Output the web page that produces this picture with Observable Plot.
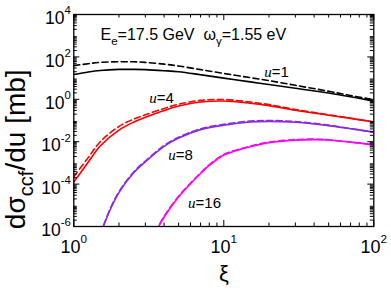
<!DOCTYPE html>
<html>
<head>
<meta charset="utf-8">
<script src="https://cdn.jsdelivr.net/npm/d3@7"></script>
<script src="https://cdn.jsdelivr.net/npm/@observablehq/plot@0.6"></script>
<style>
  html, body { margin: 0; padding: 0; background: #fff; }
  #chart svg { display: block; }
</style>
</head>
<body>
<div id="chart"></div>
<script>
// ---- data ----
// log10 of dσ/du [mb] at each ξ
const xiA = [1, 1.25, 1.5, 2, 2.5, 3, 4, 5, 7, 10, 15, 20, 30, 50, 70, 100];
const u1Solid  = [1.17, 1.29, 1.36, 1.41, 1.41, 1.40, 1.35, 1.30, 1.16, 1.00, 0.82, 0.70, 0.52, 0.30, 0.12, -0.09];
const u1Dashed = [1.59, 1.68, 1.74, 1.77, 1.77, 1.74, 1.66, 1.57, 1.40, 1.22, 1.02, 0.88, 0.66, 0.38, 0.18, -0.02];
const u4Solid  = [-3.9, -2.96, -2.2, -1.45, -1.08, -0.85, -0.53, -0.32, -0.13, -0.08, -0.19, -0.30, -0.52, -0.75, -0.90, -1.07];
const u4Dashed = [-3.65, -2.74, -2.0, -1.28, -0.94, -0.73, -0.43, -0.23, -0.05, -0.01, -0.13, -0.25, -0.48, -0.73, -0.89, -1.07];
const xiB = [1.5, 1.75, 2, 2.5, 3, 4, 5, 7, 10, 15, 20, 30, 50, 70, 100];
const u8Solid  = [-6.4, -5.2, -4.4, -3.48, -2.95, -2.22, -1.83, -1.43, -1.22, -1.07, -1.04, -1.08, -1.24, -1.39, -1.55];
const u8Dashed = [-6.36, -5.16, -4.36, -3.44, -2.91, -2.18, -1.79, -1.39, -1.18, -1.03, -1.00, -1.05, -1.22, -1.38, -1.55];
const xiC = [3.5, 4, 5, 6, 7, 8, 10, 12, 15, 20, 30, 40, 50, 70, 100];
const u16Solid  = [-6.3, -5.55, -4.6, -3.98, -3.5, -3.12, -2.63, -2.43, -2.24, -2.05, -1.93, -1.90, -1.92, -2.02, -2.15];
const u16Dashed = [-6.27, -5.52, -4.57, -3.95, -3.47, -3.09, -2.60, -2.40, -2.21, -2.02, -1.90, -1.88, -1.91, -2.02, -2.15];

const curveLabels = ["u=1", "u=4", "u=8", "u=16"];
const labelXi = [22.5, 3.84, 5.14, 7.44];
const labelY  = [18.4, 1.09, 2.24e-3, 1.2e-5];

const xMajor = [1, 10, 100];
const yMajor = [1e-6, 1e-4, 1e-2, 1, 1e2, 1e4];
const yDecades = [1e-6, 1e-5, 1e-4, 1e-3, 1e-2, 1e-1, 1, 1e1, 1e2, 1e3, 1e4];
const header = "E_e=17.5 GeV  ω_γ=1.55 eV";
const yTitle = "dσ_ccf/du [mb]";
const xTitle = "ξ";

// ---- build tables ----
function series(xs, ls, key) {
  return xs.map((x, i) => ({xi: x, v: Math.pow(10, ls[i]), key}));
}
const colors = {u1: "#000000", u4: "#ff0000", u8: "#8a2be2", u16: "#ff00ff"};
const solids = [
  series(xiA, u1Solid, "u1"), series(xiA, u4Solid, "u4"),
  series(xiB, u8Solid, "u8"), series(xiC, u16Solid, "u16")
];
const dashes = [
  series(xiA, u1Dashed, "u1"), series(xiA, u4Dashed, "u4"),
  series(xiB, u8Dashed, "u8"), series(xiC, u16Dashed, "u16")
];
const minor = (decs, top) => decs.filter(d => d < top).flatMap(d => [2,3,4,5,6,7,8,9].map(m => m * d));
const xMinor = minor([1, 10], 100);
const yMinor = minor(yDecades, 1e4);
const labels = curveLabels.map((t, i) => ({t, x: labelXi[i], y: labelY[i]}));

const W = 391, H = 290;
const mL = 73.3, mR = 17.7, mT = 14, mB = 64;
const fw = W - mL - mR, fh = H - mT - mB;
const majLen = 6, minLen = 3.5;

const lineMarks = [];
solids.forEach(s => lineMarks.push(Plot.line(s, {x: "xi", y: "v", stroke: colors[s[0].key], strokeWidth: 1.6, curve: "catmull-rom", clip: true})));
dashes.forEach(s => lineMarks.push(Plot.line(s, {x: "xi", y: "v", stroke: colors[s[0].key], strokeWidth: 1.6, strokeDasharray: "6,3.5", curve: "catmull-rom", clip: true})));

const fmt = d => "10^" + Math.round(Math.log10(d));
const plot = Plot.plot({
  width: W, height: H,
  marginLeft: mL, marginRight: mR, marginTop: mT, marginBottom: mB,
  style: {fontFamily: "'Liberation Sans', Arial, Helvetica, sans-serif", background: "white", overflow: "visible"},
  x: {type: "log", domain: [1, 100], axis: null},
  y: {type: "log", domain: [1e-6, 1e4], axis: null},
  marks: [
    ...lineMarks,
    // inward ticks on all four sides
    Plot.tickX(xMajor, {x: d => d, insetTop: fh - majLen, stroke: "black", strokeWidth: 1}),
    Plot.tickX(xMinor, {x: d => d, insetTop: fh - minLen, stroke: "black", strokeWidth: 1}),
    Plot.tickX(xMajor, {x: d => d, insetBottom: fh - majLen, stroke: "black", strokeWidth: 1}),
    Plot.tickX(xMinor, {x: d => d, insetBottom: fh - minLen, stroke: "black", strokeWidth: 1}),
    Plot.tickY(yMajor, {y: d => d, insetRight: fw - majLen, stroke: "black", strokeWidth: 1}),
    Plot.tickY(yMinor, {y: d => d, insetRight: fw - minLen, stroke: "black", strokeWidth: 1}),
    Plot.tickY(yMajor, {y: d => d, insetLeft: fw - majLen, stroke: "black", strokeWidth: 1}),
    Plot.tickY(yMinor, {y: d => d, insetLeft: fw - minLen, stroke: "black", strokeWidth: 1}),
    Plot.frame({stroke: "black", strokeWidth: 1.3}),
    // tick labels
    Plot.axisX(xMajor, {tickSize: 0, tickPadding: 14, fontSize: 18, tickFormat: fmt}),
    Plot.axisY(yMajor, {anchor: "left", tickSize: 0, tickPadding: 3, dy: 4, fontSize: 17.5, tickFormat: fmt}),
    // curve labels
    Plot.text(labels, {x: "x", y: "y", text: "t", fontSize: 15, fill: "black"}),
    // header
    Plot.text([header], {frameAnchor: "top-left", dx: 26.7, dy: 14, textAnchor: "start", fontSize: 16}),
    // axis titles
    Plot.text([xTitle], {frameAnchor: "bottom", dy: 54, fontSize: 22}),
    Plot.text([yTitle], {x: () => 1, y: () => 4.4e-3, dx: -58, rotate: -90, fontSize: 28})
  ]
});
document.getElementById("chart").appendChild(plot);

// rich text helper: segments [text, kind] -> tspans with sub/superscripts
function rich(el, segs) {
  const t = d3.select(el);
  const fs = parseFloat(getComputedStyle(el).fontSize) || 16;
  t.selectAll("*").remove();
  t.text(null);
  let shift = 0;
  segs.forEach(([s, kind]) => {
    const sp = t.append("tspan").text(s);
    let target = 0, spanFs = fs;
    if (kind === "sup") { target = -0.55; spanFs = fs * 0.65; }
    else if (kind === "sub") { target = 0.3; spanFs = fs * 0.72; }
    else if (kind === "it") { sp.attr("font-style", "italic").attr("font-family", "'Liberation Serif', 'DejaVu Serif', serif"); }
    if (spanFs !== fs) sp.attr("font-size", spanFs + "px");
    const delta = (target - shift) * fs;
    if (delta !== 0) sp.attr("dy", delta + "px");
    shift = target;
  });
}
d3.select(plot).selectAll("text").each(function() {
  const s = this.textContent;
  if (/^10\^/.test(s)) rich(this, [["10", ""], [s.slice(3), "sup"]]);
  else if (/^u=/.test(s)) rich(this, [["u", "it"], [s.slice(1), ""]]);
  else if (s === header) rich(this, [["E", ""], ["e", "sub"], ["=17.5 GeV  ", ""], ["ω", ""], ["γ", "sub"], ["=1.55 eV", ""]]);
  else if (s === yTitle) rich(this, [["dσ", ""], ["ccf", "sub"], ["/du [mb]", ""]]);
});
</script>
</body>
</html>
